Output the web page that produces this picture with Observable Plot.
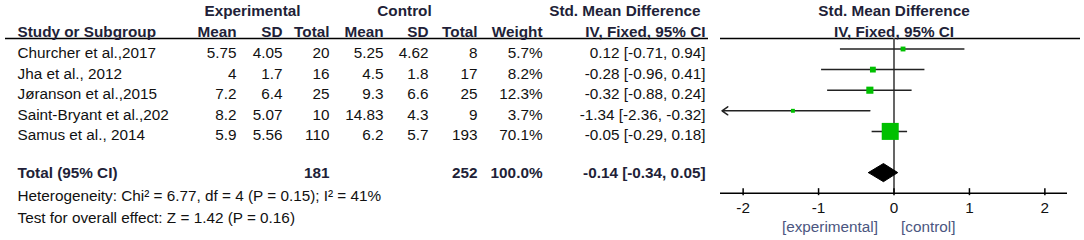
<!DOCTYPE html>
<html>
<head>
<meta charset="utf-8">
<script src="https://cdn.jsdelivr.net/npm/d3@7"></script>
<script src="https://cdn.jsdelivr.net/npm/@observablehq/plot@0.6"></script>
<style>
  html, body { margin: 0; padding: 0; background: #fff; }
  #chart svg { display: block; }
</style>
</head>
<body>
<div id="chart"></div>
<script>
// ---- data ----
const studies = ["Churcher et al.,2017", "Jha et al., 2012", "Jøranson et al.,2015", "Saint-Bryant et al.,202", "Samus et al., 2014"];
const expMean = [5.75, 4, 7.2, 8.2, 5.9];
const expSD   = [4.05, 1.7, 6.4, 5.07, 5.56];
const expN    = [20, 16, 25, 10, 110];
const ctlMean = [5.25, 4.5, 9.3, 14.83, 6.2];
const ctlSD   = [4.62, 1.8, 6.6, 4.3, 5.7];
const ctlN    = [8, 17, 25, 9, 193];
const weights = [5.7, 8.2, 12.3, 3.7, 70.1];
const smd     = [0.12, -0.28, -0.32, -1.34, -0.05];
const ciLow   = [-0.71, -0.96, -0.88, -2.36, -0.29];
const ciHigh  = [0.94, 0.41, 0.24, -0.32, 0.18];
const totalExpN = 181, totalCtlN = 252, totalWeight = 100.0;
const totalSmd = -0.14, totalLow = -0.34, totalHigh = 0.05;
const heterogeneityText = "Heterogeneity: Chi² = 6.77, df = 4 (P = 0.15); I² = 41%";
const overallText = "Test for overall effect: Z = 1.42 (P = 0.16)";
const tickValues = [-2, -1, 0, 1, 2];

// ---- derived table ----
const fmtCI = (m, l, h) => `${m.toFixed(2)} [${l.toFixed(2)}, ${h.toFixed(2)}]`;
const rows = studies.map((s, i) => ({
  row: i, study: s,
  expMean: String(expMean[i]), expSD: String(expSD[i]), expN: String(expN[i]),
  ctlMean: String(ctlMean[i]), ctlSD: String(ctlSD[i]), ctlN: String(ctlN[i]),
  weightTxt: weights[i].toFixed(1) + "%", weight: weights[i],
  smd: smd[i], lo: ciLow[i], hi: ciHigh[i], ci: fmtCI(smd[i], ciLow[i], ciHigh[i])
}));
const totalRow = 6;
const total = [{
  row: totalRow, label: "Total (95% CI)", expN: String(totalExpN), ctlN: String(totalCtlN),
  weightTxt: totalWeight.toFixed(1) + "%", ci: fmtCI(totalSmd, totalLow, totalHigh)
}];

// ---- layout (pixels / row units) ----
const X_MIN = -2.3, X_MAX = 2.3;
const L = {
  studyX: 17,
  cols: [
    {key: "expMean", head: "Mean", x: 236},
    {key: "expSD", head: "SD", x: 282},
    {key: "expN", head: "Total", x: 329},
    {key: "ctlMean", head: "Mean", x: 383},
    {key: "ctlSD", head: "SD", x: 428},
    {key: "ctlN", head: "Total", x: 477},
    {key: "weightTxt", head: "Weight", x: 542},
    {key: "ci", head: "IV, Fixed, 95% CI", x: 705}
  ],
  groupRow: -1.86, headRow: -0.84, lineRow: -0.51,
  textShift: 0.2, hetRow: 7.15, testRow: 8.2,
  axisRow: 7.0, tickTop: 6.78, tickBot: 7.12, tickLabelRow: 7.74, dirRow: 8.64,
  diamondHalf: 0.44
};
const HEAD = "#221f38";
const FS = 15.3;
const clampedLeft = rows.filter(d => d.lo < X_MIN);
const inside = rows.filter(d => d.lo >= X_MIN);
const diamond = [
  {x: totalLow, y: totalRow}, {x: totalSmd, y: totalRow - L.diamondHalf},
  {x: totalHigh, y: totalRow}, {x: totalSmd, y: totalRow + L.diamondHalf},
  {x: totalLow, y: totalRow}
];

const marks = [];
// header lines
marks.push(Plot.ruleY([L.lineRow], {insetLeft: 5, insetRight: 376, stroke: "#000", strokeWidth: 1.6}));
marks.push(Plot.ruleY([L.lineRow], {insetLeft: 720, insetRight: 4, stroke: "#000", strokeWidth: 1.6}));
// group headers
marks.push(Plot.text(["Experimental"], {y: () => L.groupRow, frameAnchor: "left", dx: 252, textAnchor: "middle", fontSize: FS, fontWeight: "bold", fill: HEAD}));
marks.push(Plot.text(["Control"], {y: () => L.groupRow, frameAnchor: "left", dx: 404, textAnchor: "middle", fontSize: FS, fontWeight: "bold", fill: HEAD}));
marks.push(Plot.text(["Std. Mean Difference"], {y: () => L.groupRow, frameAnchor: "left", dx: 700, textAnchor: "end", fontSize: FS, fontWeight: "bold", fill: HEAD}));
marks.push(Plot.text(["Std. Mean Difference"], {x: () => 0, y: () => L.groupRow, textAnchor: "middle", fontSize: FS, fontWeight: "bold", fill: HEAD}));
marks.push(Plot.text(["IV, Fixed, 95% CI"], {x: () => 0, y: () => L.headRow, textAnchor: "middle", fontSize: FS, fontWeight: "bold", fill: HEAD}));
// column headers
marks.push(Plot.text(["Study or Subgroup"], {y: () => L.headRow, frameAnchor: "left", dx: L.studyX, textAnchor: "start", fontSize: FS, fontWeight: "bold", fill: HEAD}));
for (const c of L.cols) {
  marks.push(Plot.text([c.head], {y: () => L.headRow, frameAnchor: "left", dx: c.x, textAnchor: "end", fontSize: FS, fontWeight: "bold", fill: HEAD}));
}
// study rows
marks.push(Plot.text(rows, {y: d => d.row + L.textShift, text: "study", frameAnchor: "left", dx: L.studyX, textAnchor: "start", fontSize: FS, fill: "#111"}));
for (const c of L.cols) {
  marks.push(Plot.text(rows, {y: d => d.row + L.textShift, text: c.key, frameAnchor: "left", dx: c.x, textAnchor: "end", fontSize: FS, fill: "#111"}));
}
// total row
marks.push(Plot.text(total, {y: "row", text: "label", frameAnchor: "left", dx: L.studyX, textAnchor: "start", fontSize: FS, fontWeight: "bold", fill: HEAD}));
for (const c of L.cols.filter(c => ["expN", "ctlN", "weightTxt", "ci"].includes(c.key))) {
  marks.push(Plot.text(total, {y: "row", text: c.key, frameAnchor: "left", dx: c.x, textAnchor: "end", fontSize: FS, fontWeight: "bold", fill: HEAD}));
}
// footnotes
marks.push(Plot.text([heterogeneityText], {y: () => L.hetRow, frameAnchor: "left", dx: L.studyX, textAnchor: "start", fontSize: FS, fill: "#111"}));
marks.push(Plot.text([overallText], {y: () => L.testRow, frameAnchor: "left", dx: L.studyX, textAnchor: "start", fontSize: FS, fill: "#111"}));

// forest: zero line
marks.push(Plot.ruleX([0], {y1: L.lineRow, y2: L.axisRow, stroke: "#555", strokeWidth: 1.8}));
// CI lines
marks.push(Plot.ruleY(inside, {y: "row", x1: "lo", x2: d => Math.min(d.hi, X_MAX), stroke: "#222", strokeWidth: 1.5}));
marks.push(Plot.arrow(clampedLeft, {x1: "hi", x2: () => X_MIN + 0.02, y1: "row", y2: "row", stroke: "#222", strokeWidth: 1.5, headLength: 7, headAngle: 70}));
// squares
marks.push(Plot.dot(rows, {x: "smd", y: "row", r: "weight", symbol: "square", fill: "#00c000", stroke: "none"}));
// diamond
marks.push(Plot.line(diamond, {x: "x", y: "y", fill: "#000", stroke: "#000", strokeWidth: 1}));
// axis
marks.push(Plot.ruleY([L.axisRow], {x1: X_MIN, x2: X_MAX, stroke: "#000", strokeWidth: 1.5}));
marks.push(Plot.ruleX(tickValues, {x: d => d, y1: L.tickTop, y2: L.tickBot, stroke: "#000", strokeWidth: 1.5}));
marks.push(Plot.text(tickValues, {x: d => d, y: () => L.tickLabelRow, text: d => String(d), fontSize: FS, fill: "#111"}));
marks.push(Plot.text(["[experimental]"], {x: () => 0, y: () => L.dirRow, textAnchor: "end", dx: -16, fontSize: FS, fill: "#4b5680"}));
marks.push(Plot.text(["[control]"], {x: () => 0, y: () => L.dirRow, textAnchor: "start", dx: 7, fontSize: FS, fill: "#4b5680"}));

const chart = Plot.plot({
  width: 1084, height: 240, margin: 0,
  style: {fontFamily: "'Liberation Sans', Arial, sans-serif", background: "#fff", overflow: "visible"},
  x: {domain: [X_MIN, X_MAX], range: [720, 1067], axis: null},
  y: {domain: [0, 1], range: [48.5, 69.1], axis: null},
  r: {type: "sqrt", domain: [0, 70.1], range: [0, 9.6]},
  marks
});
document.getElementById("chart").appendChild(chart);
</script>
</body>
</html>
